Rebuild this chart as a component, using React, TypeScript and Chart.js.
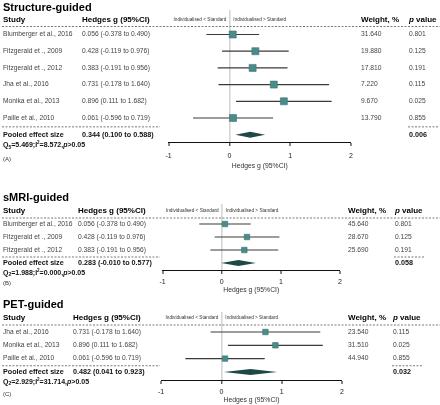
import React, { useEffect, useRef } from "react";
import { Chart, registerables } from "chart.js";

Chart.register(...registerables);

const FONT = '"Liberation Sans", Arial, Helvetica, sans-serif';
const TEAL = "#4a8c8a";
const TEAL_DARK = "#3b7472";
const DIAMOND = "#1d4a48";

// ---------- shared ----------
const axisRange = [-1, 2];
const axisTitle = "Hedges g (95%CI)";
const headerStudy = "Study";
const headerHedges = "Hedges g (95%CI)";
const headerWeight = "Weight, %";
const headerP = ["p", " value"];
const pooledLabel = "Pooled effect size";
const leftFavour = "Individualised < Standard";
const rightFavour = "Individualised > Standard";

// ---------- Panel A: Structure-guided ----------
const titleA = "Structure-guided";
const studiesA = [
  "Blumberger et al., 2016",
  "Fitzgerald et ., 2009",
  "Fitzgerald et ., 2012",
  "Jha et al., 2016",
  "Monika et al., 2013",
  "Paille et al., 2010",
];
const hedgesA = [0.056, 0.428, 0.383, 0.731, 0.896, 0.061];
const lowerA = [-0.378, -0.119, -0.191, -0.178, 0.111, -0.596];
const upperA = [0.49, 0.976, 0.956, 1.64, 1.682, 0.719];
const weightsA = [31.64, 19.88, 17.81, 7.22, 9.67, 13.79];
const pValuesA = ["0.801", "0.125", "0.191", "0.115", "0.025", "0.855"];
const pooledA = [0.344, 0.1, 0.588];
const pooledPA = "0.006";
const hetA = ["5", "5.469", "8.572"];
const tagA = "(A)";

// ---------- Panel B: sMRI-guided ----------
const titleB = "sMRI-guided";
const studiesB = ["Blumberger et al., 2016", "Fitzgerald et ., 2009", "Fitzgerald et ., 2012"];
const hedgesB = [0.056, 0.428, 0.383];
const lowerB = [-0.378, -0.119, -0.191];
const upperB = [0.49, 0.976, 0.956];
const weightsB = [45.64, 28.67, 25.69];
const pValuesB = ["0.801", "0.125", "0.191"];
const pooledB = [0.283, -0.01, 0.577];
const pooledPB = "0.058";
const hetB = ["2", "1.988", "0.000"];
const tagB = "(B)";

// ---------- Panel C: PET-guided ----------
const titleC = "PET-guided";
const studiesC = ["Jha et al., 2016", "Monika et al., 2013", "Paille et al., 2010"];
const hedgesC = [0.731, 0.896, 0.061];
const lowerC = [-0.178, 0.111, -0.596];
const upperC = [1.64, 1.682, 0.719];
const weightsC = [23.54, 31.51, 44.94];
const pValuesC = ["0.115", "0.025", "0.855"];
const pooledC = [0.482, 0.041, 0.923];
const pooledPC = "0.032";
const hetC = ["2", "2.929", "31.714"];
const tagC = "(C)";

type Layout = {
  top: number; xLeft: number; xRight: number; plotTop: number; axisY: number; axisH: number;
  tickPad: number; titleY: number; headerY: number; row0: number; rowStep: number;
  hedgesX: number; weightX: number; pX: number; qY: number; tagY: number; sq: number;
};

type PanelDef = {
  title: string; studies: string[]; hedges: number[]; lower: number[]; upper: number[];
  weights: number[]; pValues: string[]; pooled: number[]; pooledP: string; het: string[];
  tag: string; layout: Layout;
};

const panels: PanelDef[] = [
  {
    title: titleA, studies: studiesA, hedges: hedgesA, lower: lowerA, upper: upperA,
    weights: weightsA, pValues: pValuesA, pooled: pooledA, pooledP: pooledPA, het: hetA, tag: tagA,
    layout: {
      top: 0, xLeft: 168.5, xRight: 351, plotTop: 10, axisY: 142, axisH: 28, tickPad: 5.5,
      titleY: 8, headerY: 19.5, row0: 34.5, rowStep: 16.7, hedgesX: 82, weightX: 361, pX: 409,
      qY: 145.5, tagY: 159.5, sq: 4.95,
    },
  },
  {
    title: titleB, studies: studiesB, hedges: hedgesB, lower: lowerB, upper: upperB,
    weights: weightsB, pValues: pValuesB, pooled: pooledB, pooledP: pooledPB, het: hetB, tag: tagB,
    layout: {
      top: 172, xLeft: 162.5, xRight: 340, plotTop: 204, axisY: 270, axisH: 24, tickPad: 3.8,
      titleY: 198, headerY: 211, row0: 224, rowStep: 13, hedgesX: 78, weightX: 348, pX: 395,
      qY: 273, tagY: 283, sq: 3.9,
    },
  },
  {
    title: titleC, studies: studiesC, hedges: hedgesC, lower: lowerC, upper: upperC,
    weights: weightsC, pValues: pValuesC, pooled: pooledC, pooledP: pooledPC, het: hetC, tag: tagC,
    layout: {
      top: 296, xLeft: 161, xRight: 342, plotTop: 312, axisY: 380, axisH: 24, tickPad: 3.8,
      titleY: 305, headerY: 318, row0: 332, rowStep: 13.3, hedgesX: 73, weightX: 348, pX: 393,
      qY: 382, tagY: 394, sq: 3.9,
    },
  },
];

const fmtCI = (g: number, lo: number, hi: number) =>
  `${g.toFixed(3)} (${lo.toFixed(3)} to ${hi.toFixed(3)})`;

type Seg = { t: string; f: string; dy?: number };
function drawRich(ctx: CanvasRenderingContext2D, x: number, y: number, segs: Seg[]) {
  let cx = x;
  for (const s of segs) {
    ctx.font = s.f;
    ctx.fillText(s.t, cx, y + (s.dy || 0));
    cx += ctx.measureText(s.t).width;
  }
}

function dashed(ctx: CanvasRenderingContext2D, x1: number, x2: number, y: number) {
  ctx.save();
  ctx.strokeStyle = "#555";
  ctx.lineWidth = 0.8;
  ctx.setLineDash([2, 1.5]);
  ctx.beginPath();
  ctx.moveTo(x1, y);
  ctx.lineTo(x2, y);
  ctx.stroke();
  ctx.restore();
}

function Panel({ p }: { p: PanelDef }) {
  const ref = useRef<HTMLCanvasElement>(null);
  const L = p.layout;
  const height = L.axisY - L.top + L.axisH;

  useEffect(() => {
    const canvas = ref.current!;
    const n = p.studies.length;
    const yMin = (L.plotTop - L.row0) / L.rowStep;
    const yMax = (L.axisY - L.row0) / L.rowStep;

    const ciSets = p.studies.map((_, i) => ({
      data: [
        { x: p.lower[i], y: i },
        { x: p.upper[i], y: i },
      ],
      showLine: true,
      borderColor: "#3a3a3a",
      borderWidth: 1.2,
      pointRadius: 0,
      order: 2,
    }));
    const squares = {
      data: p.hedges.map((g, i) => ({ x: g, y: i })),
      showLine: false,
      pointStyle: "rect",
      pointRadius: L.sq,
      backgroundColor: TEAL,
      borderColor: TEAL_DARK,
      borderWidth: 0.6,
      order: 1,
    };

    const textPlugin = {
      id: "forestText",
      afterDatasetsDraw(chart: any) {
        const ctx: CanvasRenderingContext2D = chart.ctx;
        const xs = chart.scales.x;
        const ys = chart.scales.y;
        const off = L.top;
        const W = chart.width;
        ctx.save();
        ctx.textBaseline = "middle";
        ctx.textAlign = "left";

        // pooled diamond
        const py = ys.getPixelForValue(n);
        ctx.fillStyle = DIAMOND;
        ctx.beginPath();
        ctx.moveTo(xs.getPixelForValue(p.pooled[1]), py);
        ctx.lineTo(xs.getPixelForValue(p.pooled[0]), py - 3);
        ctx.lineTo(xs.getPixelForValue(p.pooled[2]), py);
        ctx.lineTo(xs.getPixelForValue(p.pooled[0]), py + 3);
        ctx.closePath();
        ctx.fill();

        // title
        ctx.fillStyle = "#000";
        ctx.font = `bold 11px ${FONT}`;
        ctx.fillText(p.title, 3, L.titleY - off);

        // header
        const hy = L.headerY - off;
        ctx.font = `bold 8px ${FONT}`;
        ctx.fillText(headerStudy, 3, hy);
        ctx.fillText(headerHedges, L.hedgesX, hy);
        ctx.fillText(headerWeight, L.weightX, hy);
        drawRich(ctx, L.pX, hy, [
          { t: headerP[0], f: `italic bold 8px ${FONT}` },
          { t: headerP[1], f: `bold 8px ${FONT}` },
        ]);

        // favour labels
        const zx = xs.getPixelForValue(0);
        ctx.font = `4.7px ${FONT}`;
        ctx.fillStyle = "#333";
        ctx.textAlign = "right";
        ctx.fillText(leftFavour, zx - 3, hy);
        ctx.textAlign = "left";
        ctx.fillText(rightFavour, zx + 4, hy);

        dashed(ctx, 2, W, hy + 7);

        // rows
        ctx.fillStyle = "#444";
        ctx.font = `6.7px ${FONT}`;
        for (let i = 0; i < n; i++) {
          const y = ys.getPixelForValue(i);
          ctx.fillText(p.studies[i], 3, y);
          ctx.fillText(fmtCI(p.hedges[i], p.lower[i], p.upper[i]), L.hedgesX, y);
          ctx.fillText(p.weights[i].toFixed(3), L.weightX, y);
          ctx.fillText(p.pValues[i], L.pX, y);
        }

        // pooled row
        const sepY = (ys.getPixelForValue(n - 1) + py) / 2 + 0.5;
        dashed(ctx, 2, 160, sepY);
        dashed(ctx, L.pX - 1, L.pX + 30, sepY);
        ctx.fillStyle = "#111";
        ctx.font = `bold 7.2px ${FONT}`;
        ctx.fillText(pooledLabel, 3, py);
        ctx.fillText(fmtCI(p.pooled[0], p.pooled[1], p.pooled[2]), L.hedgesX, py);
        ctx.font = `bold 7.2px ${FONT}`;
        ctx.fillText(p.pooledP, L.pX, py);

        // heterogeneity
        const b7 = `bold 7px ${FONT}`;
        drawRich(ctx, 3, L.qY - off, [
          { t: "Q", f: b7 },
          { t: p.het[0], f: `bold 5px ${FONT}`, dy: 2 },
          { t: `=${p.het[1]};I`, f: b7 },
          { t: "2", f: `bold 4.5px ${FONT}`, dy: -2.5 },
          { t: `=${p.het[2]},`, f: b7 },
          { t: "p", f: `italic bold 7px ${FONT}` },
          { t: ">0.05", f: b7 },
        ]);

        // tag
        ctx.fillStyle = "#333";
        ctx.font = `6px ${FONT}`;
        ctx.fillText(p.tag, 3, L.tagY - off);
        ctx.restore();
      },
    };

    const chart = new Chart(canvas, {
      type: "scatter",
      data: { datasets: [squares as any, ...(ciSets as any)] },
      options: {
        responsive: false,
        maintainAspectRatio: false,
        animation: false,
        events: [],
        layout: {
          padding: { left: L.xLeft, right: 440 - L.xRight, top: L.plotTop - L.top, bottom: 0 },
        },
        plugins: { legend: { display: false }, tooltip: { enabled: false } },
        scales: {
          x: {
            type: "linear",
            min: axisRange[0],
            max: axisRange[1],
            afterFit: (s: any) => {
              s.height = L.axisH;
            },
            ticks: {
              stepSize: 1,
              padding: L.tickPad,
              color: "#222",
              font: { size: 7, family: FONT },
            },
            grid: {
              drawOnChartArea: true,
              drawTicks: true,
              tickLength: 4,
              tickColor: "#111",
              tickWidth: 1,
              color: (c: any) => (c.tick && c.tick.value === 0 ? "#d6d6d6" : "rgba(0,0,0,0)"),
              lineWidth: (c: any) => (c.tick && c.tick.value === 0 ? 1.6 : 0),
            },
            border: { display: true, color: "#111", width: 1 },
            title: {
              display: true,
              text: axisTitle,
              color: "#333",
              font: { size: 6.8, family: FONT },
              padding: { top: 0, bottom: 0 },
            },
          },
          y: {
            type: "linear",
            display: false,
            reverse: true,
            min: yMin,
            max: yMax,
          },
        },
      } as any,
      plugins: [textPlugin],
    });
    return () => chart.destroy();
  }, []);

  return (
    <canvas
      ref={ref}
      width={440}
      height={height}
      style={{ position: "absolute", left: 0, top: L.top, width: 440, height }}
    />
  );
}

export default function App() {
  return (
    <div
      style={{
        position: "absolute",
        left: 0,
        top: 0,
        width: 440,
        height: 405,
        background: "#fff",
        overflow: "hidden",
      }}
    >
      {panels.map((p, i) => (
        <Panel key={i} p={p} />
      ))}
    </div>
  );
}
